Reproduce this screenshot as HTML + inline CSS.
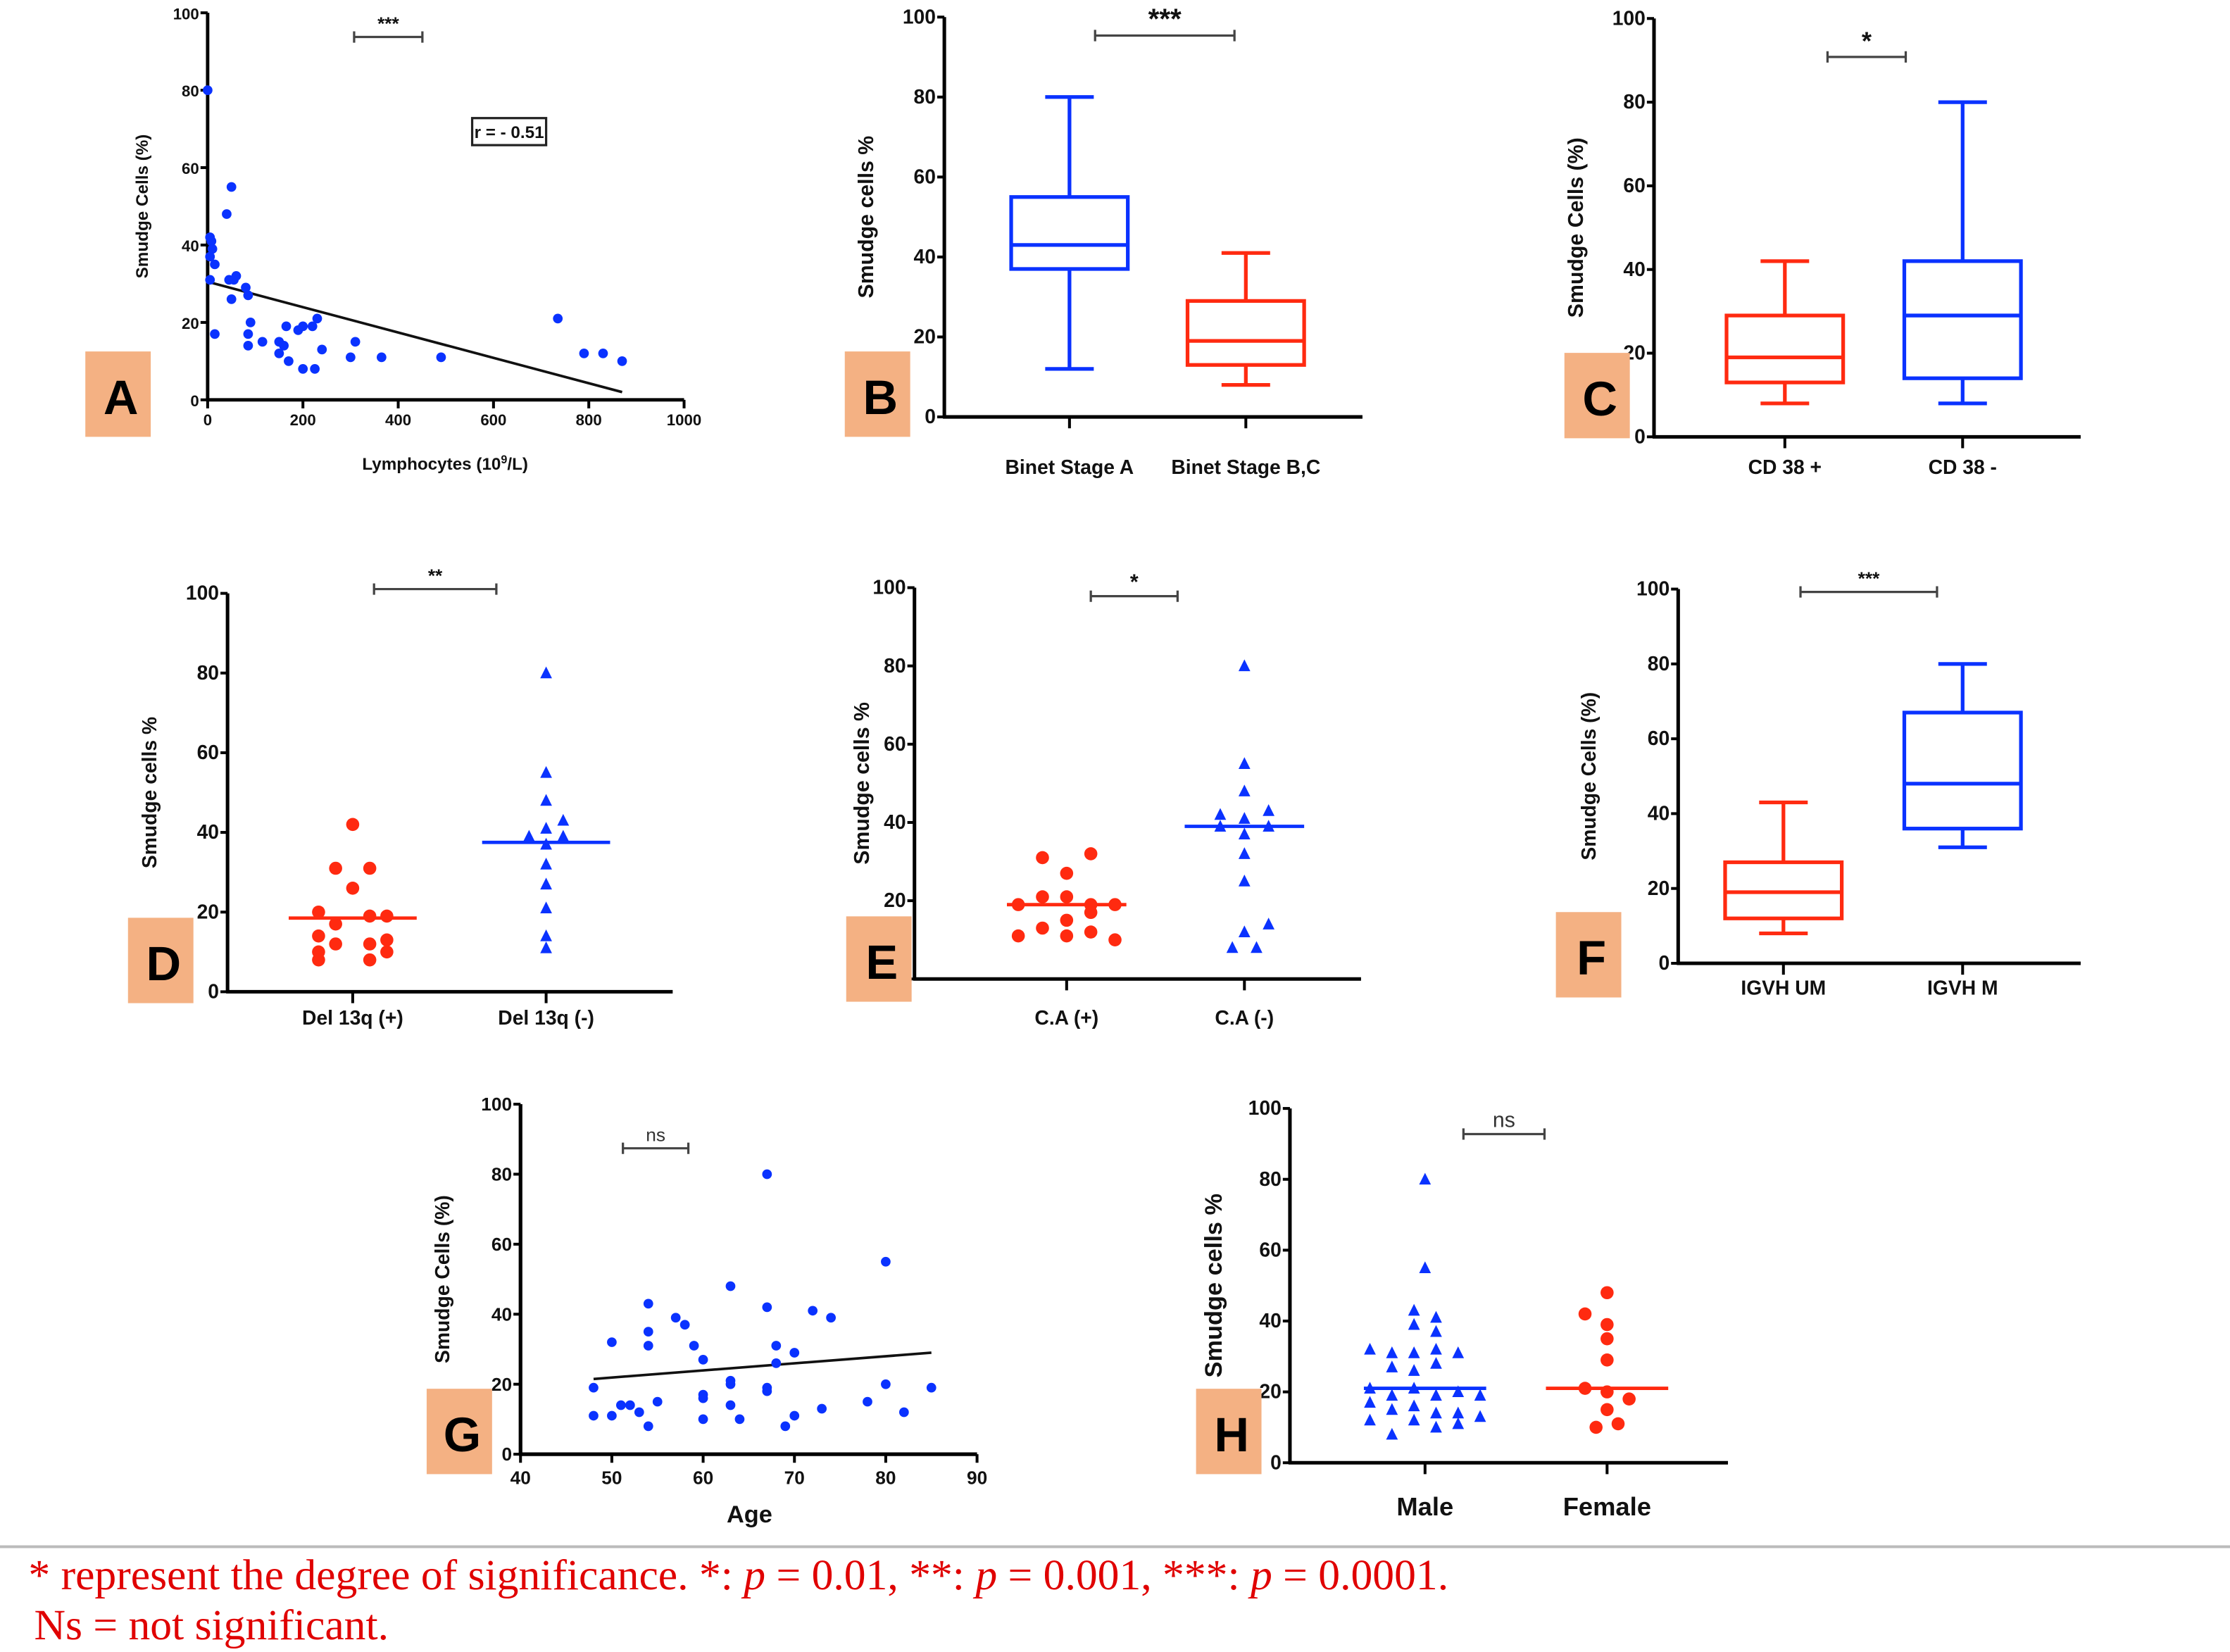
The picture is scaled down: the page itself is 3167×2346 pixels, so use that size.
<!DOCTYPE html>
<html><head><meta charset="utf-8"><style>
html,body{margin:0;padding:0;background:#fff;}
svg{display:block;}
text{font-family:"Liberation Sans",sans-serif;}
</style></head><body>
<svg id="fig" width="3167" height="2346" viewBox="0 0 1568 1161" preserveAspectRatio="none" xmlns="http://www.w3.org/2000/svg">
<line x1="0" y1="1087" x2="1568" y2="1087" stroke="#bbb" stroke-width="2"/>
<text x="20" y="1117" fill="#e00000" style="font-family:'Liberation Serif',serif;font-size:30.5px">* represent the degree of significance. *: <tspan font-style="italic">p</tspan> = 0.01, **: <tspan font-style="italic">p</tspan> = 0.001, ***: <tspan font-style="italic">p</tspan> = 0.0001.</text>
<text x="24" y="1152" fill="#e00000" style="font-family:'Liberation Serif',serif;font-size:30.5px">Ns = not significant.</text>
</svg>
<script>
// ---- Panel A data ----
const aLymph = [0,5,8,10,5,15,5,15,40,50,45,55,60,50,80,85,90,85,85,115,150,160,150,170,165,190,200,200,220,230,225,240,300,310,365,490,735,790,830,870];
const aSmudge = [80,42,41,39,37,35,31,17,48,55,31,31,32,26,29,27,20,17,14,15,15,14,12,10,19,18,19,8,19,21,8,13,11,15,11,11,21,12,12,10];
const aFitX = [0,870];
const aFitY = [30.5,2];
const aXTicks = [0,200,400,600,800,1000];
const yTicks = [0,20,40,60,80,100];
// ---- Panel G data ----
const gAge = [48,48,50,50,51,52,53,54,54,54,54,55,57,58,59,60,60,60,60,63,63,63,63,64,67,67,67,67,68,68,69,70,70,72,73,74,78,80,80,82,85];
const gSmudge = [19,11,32,11,14,14,12,43,35,31,8,15,39,37,31,27,17,16,10,48,21,20,14,10,80,42,19,18,31,26,8,29,11,41,13,39,15,55,20,12,19];
const gFitX = [48,85];
const gFitY = [21.5,29];
const gXTicks = [40,50,60,70,80,90];
// ---- Box plot data [min,q1,median,q3,max] ----
const bCats = ["Binet Stage A","Binet Stage B,C"];
const bStats = [[12,37,43,55,80],[8,13,19,29,41]];
const cCats = ["CD 38 +","CD 38 -"];
const cStats = [[8,13,19,29,42],[8,14,29,42,80]];
const fCats = ["IGVH UM","IGVH M"];
const fStats = [[8,12,19,27,43],[31,36,48,67,80]];
// ---- Dot plot data ----
const dCats = ["Del 13q (+)","Del 13q (-)"];
const dRedVals = [42,31,31,26,20,19,19,17,14,13,12,12,10,10,8,8];
const dRedJit = [0,-1,1,0,-2,1,2,-1,-2,2,-1,1,-2,2,-2,1];
const dBlueVals = [80,55,48,43,41,39,39,37,32,27,21,14,11];
const dBlueJit = [0,0,0,1,0,-1,1,0,0,0,0,0,0];
const dMedians = [18.5,37.5];
const eCats = ["C.A (+)","C.A (-)"];
const eRedVals = [31,32,27,21,21,19,19,19,17,15,13,11,11,12,10];
const eRedJit = [-1,1,0,-1,0,-2,1,2,1,0,-1,-2,0,1,2];
const eBlueVals = [80,55,48,42,41,43,39,39,37,32,25,14,12,8,8];
const eBlueJit = [0,0,0,-1,0,1,-1,1,0,0,0,1,0,-0.5,0.5];
const eMedians = [19,39];
const hCats = ["Male","Female"];
const hBlueVals = [80,55,43,41,39,37,32,31,31,32,31,27,26,28,21,21,19,19,20,19,17,16,15,14,14,13,12,12,10,11,8];
const hBlueJit = [0,0,-0.5,0.5,-0.5,0.5,-2.5,-1.5,-0.5,0.5,1.5,-1.5,-0.5,0.5,-2.5,-0.5,-1.5,0.5,1.5,2.5,-2.5,-0.5,-1.5,0.5,1.5,2.5,-2.5,-0.5,0.5,1.5,-1.5];
const hRedVals = [48,42,39,35,29,21,20,18,15,10,11];
const hRedJit = [0,-1,0,0,0,-1,0,1,0,-0.5,0.5];
const hMedians = [21,21];

const NS="http://www.w3.org/2000/svg";
const svg=document.getElementById('fig');
const BLUE="#0a32ff", RED="#ff2a10";
function mk(tag,attrs,parent){const e=document.createElementNS(NS,tag);for(const k in attrs)e.setAttribute(k,attrs[k]);(parent||svg).appendChild(e);return e;}
function group(name){const g=mk('g',{});return g;}
function txt(p,x,y,s,size,anchor,extra){const t=mk('text',Object.assign({x:x,y:y,'font-size':size,'font-weight':'bold','text-anchor':anchor||'middle',fill:'#111'},extra||{}),p);t.textContent=s;return t;}

function axes(g,o){
  const sx=v=>o.x0+(v-o.xmin)/(o.xmax-o.xmin)*(o.x1-o.x0);
  const sy=v=>o.y0-(v-0)/100*(o.y0-o.yTop);
  const ya=mk('line',{x1:o.x0,y1:o.y0,x2:o.x0,y2:o.yTop,stroke:'#000','stroke-width':o.lw||2.5},g);
  
  const xa=mk('line',{x1:o.x0-1,y1:o.y0,x2:o.x1,y2:o.y0,stroke:'#000','stroke-width':o.lw||2.5},g);
  
  yTicks.forEach(v=>{
    mk('line',{x1:o.x0-5,y1:sy(v),x2:o.x0,y2:sy(v),stroke:'#000','stroke-width':2},g);
    const t=txt(g,o.x0-6,sy(v)+4.5,String(v),o.tf||13,'end');
    
  });
  const yt=txt(g,0,0,o.ytitle,o.ytf||14,'middle',{transform:`translate(${o.x0-o.ytoff},${(o.y0+o.yTop)/2+(o.ytshift||0)}) rotate(-90)`});
  
  return {sx,sy};
}
function sigBar(g,x1,x2,y,label,size){
  const b=mk('path',{d:`M${x1},${y-4}V${y+4}M${x1},${y}H${x2}M${x2},${y-4}V${y+4}`,stroke:'#444','stroke-width':1.6,fill:'none'},g);
  
  const t=txt(g,(x1+x2)/2,y-5,label,size||14,'middle',label==='ns'?{'font-weight':'normal',fill:'#333'}:{});
  
}
function letter(x,y,L){
  const g=group('panel-label-'+L.toLowerCase());
  mk('rect',{x:x,y:y,width:46,height:60,fill:'#f4b183'},g);
  txt(g,x+25,y+44,L,34,'middle',{fill:'#000'});
}
function scatterPanel(name,o,xs,ys,fx,fy,xt){
  const g=group(name);
  const {sx,sy}=axes(g,o);
  xt.forEach(v=>{mk('line',{x1:sx(v),y1:o.y0,x2:sx(v),y2:o.y0+6,stroke:'#000','stroke-width':2},g);
    const t=txt(g,sx(v),o.y0+(o.xtoff||19),String(v),o.tf||13,'middle');});
  const fl=mk('line',{x1:sx(fx[0]),y1:sy(fy[0]),x2:sx(fx[1]),y2:sy(fy[1]),stroke:'#111','stroke-width':1.8},g);
  
  xs.forEach((x,i)=>{const c=mk('circle',{cx:sx(x),cy:sy(ys[i]),r:3.4,fill:BLUE},g);
    });
  return {g,sx,sy};
}
function boxPanel(name,o,cats,stats,colors){
  const g=group(name);
  const {sx,sy}=axes(g,o);
  cats.forEach((c,i)=>{
    const cx=o.cx[i], hw=o.hw, s=stats[i], col=colors[i];
    mk('line',{x1:cx,y1:o.y0,x2:cx,y2:o.y0+8,stroke:'#000','stroke-width':2},g);
    const bg=mk('g',{stroke:col,'stroke-width':2.6,fill:'none'},g);
    
    mk('line',{x1:cx,y1:sy(s[0]),x2:cx,y2:sy(s[1])},bg);
    mk('line',{x1:cx,y1:sy(s[3]),x2:cx,y2:sy(s[4])},bg);
    mk('line',{x1:cx-hw/2.4,y1:sy(s[0]),x2:cx+hw/2.4,y2:sy(s[0])},bg);
    mk('line',{x1:cx-hw/2.4,y1:sy(s[4]),x2:cx+hw/2.4,y2:sy(s[4])},bg);
    mk('rect',{x:cx-hw,y:sy(s[3]),width:2*hw,height:sy(s[1])-sy(s[3])},bg);
    mk('line',{x1:cx-hw,y1:sy(s[2]),x2:cx+hw,y2:sy(s[2])},bg);
    const t=txt(g,cx,o.catY,c,14,'middle');
  });
  return g;
}
function tri(g,x,y,col){const s=4.6;return mk('path',{d:`M${x},${y-s}L${x+s*0.9},${y+s*0.8}L${x-s*0.9},${y+s*0.8}Z`,fill:col},g);}
function dotPanel(name,o,cats,groups,medians){
  const g=group(name);
  const {sx,sy}=axes(g,o);
  cats.forEach((c,i)=>{
    const cx=o.cx[i];
    mk('line',{x1:cx,y1:o.y0,x2:cx,y2:o.y0+8,stroke:'#000','stroke-width':2},g);
    const t=txt(g,cx,o.catY,c,o.cf||14,'middle');
    const gr=groups[i];
    gr.vals.forEach((v,j)=>{
      const x=cx+gr.jit[j]*o.sp, y=sy(v);
      let m;
      if(gr.shape==='tri') m=tri(g,x,y,gr.col); else m=mk('circle',{cx:x,cy:y,r:4.6,fill:gr.col},g);
      
    });
    const ml=mk('line',{x1:cx-o.mw,y1:sy(medians[i]),x2:cx+o.mw,y2:sy(medians[i]),stroke:gr.col,'stroke-width':2.4},g);
    
  });
  return g;
}

const A=scatterPanel('panel-a-scatter',{x0:146,x1:481,y0:281,yTop:9,xmin:0,xmax:1000,ytitle:'Smudge Cells (%)',ytoff:42,tf:11,ytf:12,xtoff:18,lw:2.4},aLymph,aSmudge,aFitX,aFitY,aXTicks);
{const r=mk('rect',{x:332,y:83,width:52,height:19,fill:'none',stroke:'#222','stroke-width':1.6},A.g);
 txt(A.g,358,97,'r = - 0.51',12,'middle');
 const t=txt(A.g,313,330,'',12,'middle');t.innerHTML='Lymphocytes (10<tspan baseline-shift="super" font-size="8">9</tspan>/L)';
 sigBar(A.g,249,297,26,'***',13);}
letter(60,247,'A');
const B=boxPanel('panel-b-boxplot',{x0:664,x1:958,y0:293,yTop:12,xmin:0,xmax:1,ytitle:'Smudge cells %',ytoff:50,tf:14,ytf:15,cx:[752,876],hw:41,catY:333},bCats,bStats,[BLUE,RED]);
sigBar(B,770,868,25,'***',20);
letter(594,247,'B');
const C=boxPanel('panel-c-boxplot',{x0:1163,x1:1463,y0:307,yTop:13,xmin:0,xmax:1,ytitle:'Smudge Cells (%)',ytoff:50,tf:14,ytf:15,cx:[1255,1380],hw:41,catY:333},cCats,cStats,[RED,BLUE]);
sigBar(C,1285,1340,40,'*',18);
letter(1100,248,'C');
const F=boxPanel('panel-f-boxplot',{x0:1180,x1:1463,y0:677,yTop:414,xmin:0,xmax:1,ytitle:'Smudge Cells (%)',ytoff:58,tf:14,ytf:14,cx:[1254,1380],hw:41,catY:699},fCats,fStats,[RED,BLUE]);
sigBar(F,1266,1362,416,'***',13);
letter(1094,641,'F');
const D=dotPanel('panel-d-dotplot',{x0:160,x1:473,y0:697,yTop:417,ytitle:'Smudge cells %',ytoff:50,tf:14,ytf:14,cx:[248,384],sp:12,mw:45,catY:720},dCats,
 [{vals:dRedVals,jit:dRedJit,col:RED,shape:'dot'},{vals:dBlueVals,jit:dBlueJit,col:BLUE,shape:'tri'}],dMedians);
sigBar(D,263,349,414,'**',13);
letter(90,645,'D');
const E=dotPanel('panel-e-dotplot',{x0:643,x1:957,y0:688,yTop:413,ytitle:'Smudge cells %',ytoff:32,tf:14,ytf:15,cx:[750,875],sp:17,mw:42,catY:720},eCats,
 [{vals:eRedVals,jit:eRedJit,col:RED,shape:'dot'},{vals:eBlueVals,jit:eBlueJit,col:BLUE,shape:'tri'}],eMedians);
sigBar(E,767,828,419,'*',15);
letter(595,644,'E');
const G=scatterPanel('panel-g-scatter',{x0:366,x1:687,y0:1022,yTop:776,xmin:40,xmax:90,ytitle:'Smudge Cells (%)',ytoff:50,tf:13,ytf:14,xtoff:21,lw:2.6},gAge,gSmudge,gFitX,gFitY,gXTicks);
{const t=txt(G.g,527,1070,'Age',17,'middle');
 sigBar(G.g,438,484,807,'ns',13);}
letter(300,976,'G');
const H=dotPanel('panel-h-dotplot',{x0:907,x1:1215,y0:1028,yTop:779,ytitle:'Smudge cells %',ytoff:48,ytshift:0,tf:14,ytf:17,cx:[1002,1130],sp:15.5,mw:43,catY:1065,cf:18},hCats,
 [{vals:hBlueVals,jit:hBlueJit,col:BLUE,shape:'tri'},{vals:hRedVals,jit:hRedJit,col:RED,shape:'dot'}],hMedians);
sigBar(H,1029,1086,797,'ns',15);
letter(841,976,'H');
</script>
</body></html>
